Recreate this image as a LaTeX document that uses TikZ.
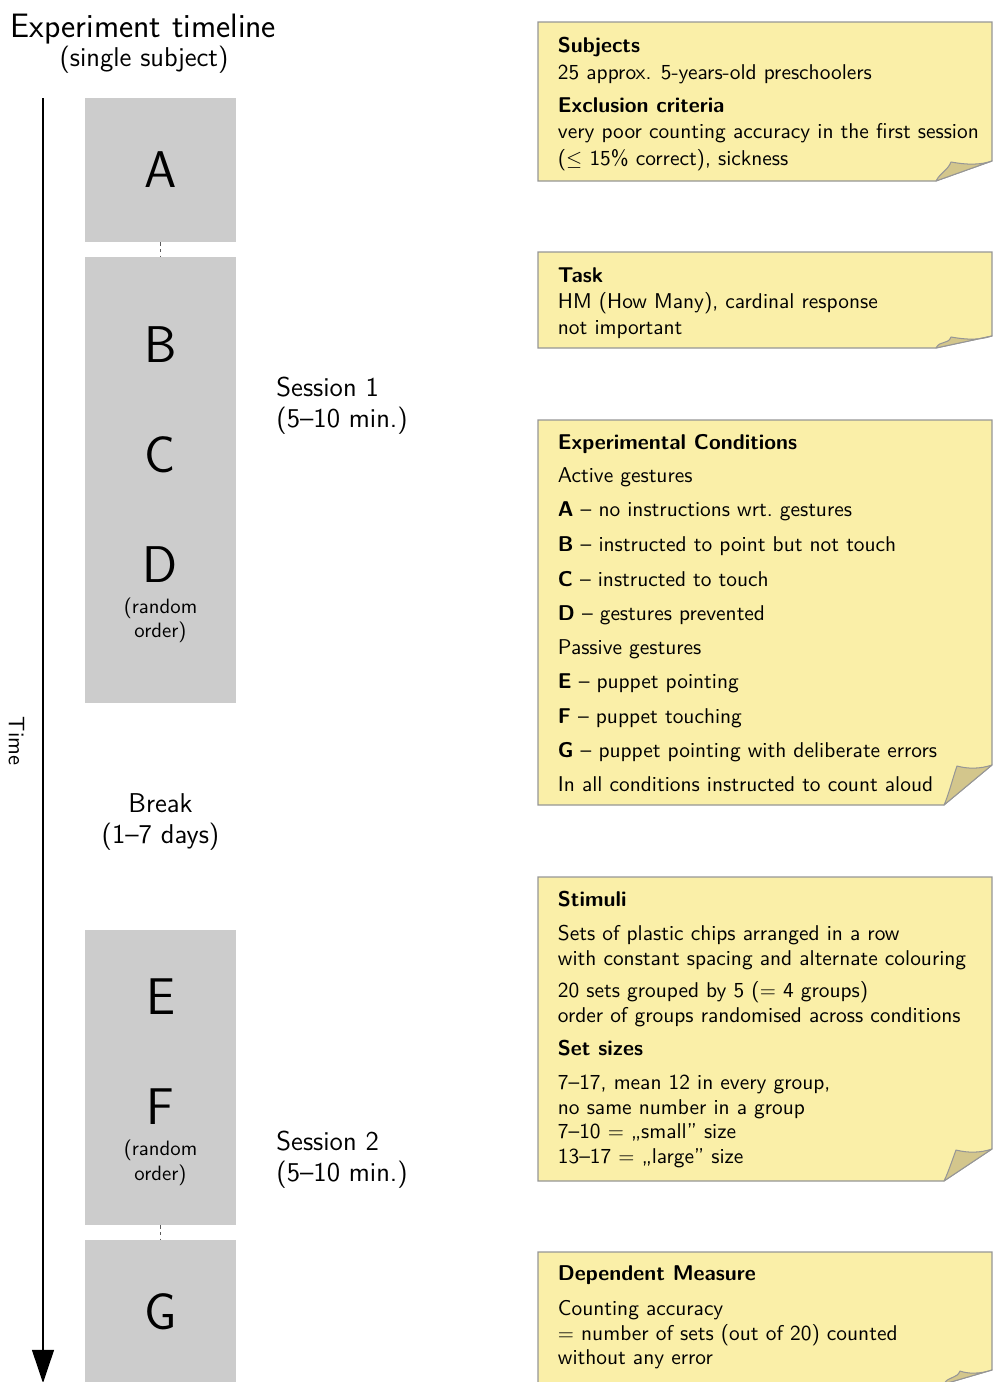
\documentclass[tikz,border=0pt]{standalone}
\usetikzlibrary{arrows.meta}

\newcommand\pxu{0.4817pt}

\definecolor{boxgray}{RGB}{204,204,204}
\definecolor{notefill}{RGB}{250,239,168}
\definecolor{foldfill}{RGB}{211,198,140}
\definecolor{noteline}{RGB}{150,150,150}
\definecolor{gapline}{RGB}{90,90,90}

% sticky note: #1 top, #2 bottom, #3 fold start on the right edge,
% #4 fold tip on the bottom edge, #5 inner corner of the turned-up flap
\newcommand\stickynote[5]{%
  \path[notebody] (538,#1) -- (992,#1) -- (992,#3) -- (#4,#2) -- (538,#2) -- cycle;
  \path[notefold] (992,#3) .. controls (980,#3+4) and (968,#3+4) .. (#5,#3+1)
     .. controls (#5-3,#3+9) and (#4+4,#2-8) .. (#4,#2) -- cycle;
}

\begin{document}
\begin{tikzpicture}[x=0.4817pt,y=-0.4817pt,
  graybox/.style={fill=boxgray, draw=none, inner sep=0pt, minimum width=151*\pxu},
  gap/.style={draw=gapline, line width=0.4pt, dash pattern=on 1.6pt off 1.6pt},
  bigletter/.style={anchor=base, inner sep=0pt, font=\sffamily\Huge},
  small/.style={anchor=base, inner sep=0pt, font=\sffamily\normalsize},
  label/.style={anchor=base west, inner sep=0pt, font=\sffamily\fontsize{13.1}{15}\selectfont},
  clabel/.style={label, anchor=base},
  notebody/.style={fill=notefill, draw=noteline, line width=0.5pt},
  notefold/.style={fill=foldfill, draw=noteline, line width=0.5pt, line join=round},
  notetxt/.style={anchor=base west, inner sep=0pt, font=\sffamily\fontsize{10.3}{12.5}\selectfont},
  notehead/.style={notetxt, font=\sffamily\bfseries\fontsize{10.3}{12.5}\selectfont},
  timearrow/.style={draw=black, line width=0.65pt, -{Triangle[length=16pt,width=10.6pt]}}
]
\useasboundingbox (0,0) rectangle (996,1382);

% ---------- heading ----------
\node[anchor=base, inner sep=0pt, font=\sffamily\fontsize{16.3}{19}\selectfont] (title) at (143.5,37) {Experiment timeline};
\node[clabel] (subtitle) at (144,66.5) {(single subject)};

% ---------- time axis ----------
\coordinate (tstart) at (43,98);
\coordinate (tend) at (43,1383);
\draw[timearrow] (tstart) -- (tend);
\node[inner sep=0pt, rotate=-90, font=\sffamily\fontsize{10.8}{13}\selectfont] (timelbl) at (16.5,741) {Time};

% ---------- blocks ----------
\node[graybox, minimum height=144*\pxu] (boxA) at (160.5,170) {};
\node[graybox, minimum height=446*\pxu] (boxBCD) at (160.5,480) {};
\node[graybox, minimum height=295*\pxu] (boxEF) at (160.5,1077.5) {};
\node[graybox, minimum height=160*\pxu] (boxG) at (160.5,1320) {};

\draw[gap] (boxA.south) -- (boxBCD.north);
\draw[gap] (boxEF.south) -- (boxG.north);

\node[bigletter] (lA) at (160.5,187) {A};
\node[bigletter] (lB) at (160.5,362) {B};
\node[bigletter] (lC) at (160.5,472) {C};
\node[bigletter] (lD) at (160.5,582) {D};
\node[small] (rnd1a) at (160.5,613) {(random};
\node[small] (rnd1b) at (160.5,637) {order)};
\node[bigletter] (lE) at (160.5,1014) {E};
\node[bigletter] (lF) at (160.5,1124) {F};
\node[small] (rnd2a) at (160.5,1155) {(random};
\node[small] (rnd2b) at (160.5,1180) {order)};
\node[bigletter] (lG) at (160.5,1329) {G};

% ---------- session labels ----------
\node[label] (s1a) at (276,396) {Session 1};
\node[label] (s1b) at (276,427) {(5--10 min.)};
\node[clabel] (brk1) at (160.5,812) {Break};
\node[clabel] (brk2) at (160.5,843) {(1--7 days)};
\node[label] (s2a) at (276,1150) {Session 2};
\node[label] (s2b) at (276,1181) {(5--10 min.)};

% ---------- notes ----------
\stickynote{22}{181}{161}{936}{951}
\node[notehead] (n1a) at (557.5,52) {Subjects};
\node[notetxt]  (n1b) at (557.5,79) {25 approx. 5-years-old preschoolers};
\node[notehead] (n1c) at (557.5,112.5) {Exclusion criteria};
\node[notetxt]  (n1d) at (557.5,138) {very poor counting accuracy in the first session};
\node[notetxt]  (n1e) at (557.5,165) {($\leq$ 15\% correct), sickness};

\stickynote{252}{348}{336}{936}{951}
\node[notehead] (n2a) at (557.5,282) {Task};
\node[notetxt]  (n2b) at (557.5,308) {HM (How Many), cardinal response};
\node[notetxt]  (n2c) at (557.5,334) {not important};

\stickynote{420}{805}{765}{944}{957}
\node[notehead] (n3a) at (557.5,449) {Experimental Conditions};
\node[notetxt]  (n3b) at (557.5,482.5) {Active gestures};
\node[notetxt]  (n3c) at (557.5,516) {\textbf{A} -- no instructions wrt.\ gestures};
\node[notetxt]  (n3d) at (557.5,551) {\textbf{B} -- instructed to point but not touch};
\node[notetxt]  (n3e) at (557.5,586) {\textbf{C} -- instructed to touch};
\node[notetxt]  (n3f) at (557.5,620.5) {\textbf{D} -- gestures prevented};
\node[notetxt]  (n3g) at (557.5,654.5) {Passive gestures};
\node[notetxt]  (n3h) at (557.5,688) {\textbf{E} -- puppet pointing};
\node[notetxt]  (n3i) at (557.5,723) {\textbf{F} -- puppet touching};
\node[notetxt]  (n3j) at (557.5,757) {\textbf{G} -- puppet pointing with deliberate errors};
\node[notetxt]  (n3k) at (557.5,791) {In all conditions instructed to count aloud};

\stickynote{877}{1181}{1149}{944}{956}
\node[notehead] (n4a) at (557.5,906) {Stimuli};
\node[notetxt]  (n4b) at (557.5,940.5) {Sets of plastic chips arranged in a row};
\node[notetxt]  (n4c) at (557.5,965) {with constant spacing and alternate colouring};
\node[notetxt]  (n4d) at (557.5,997) {20 sets grouped by 5 ($=$ 4 groups)};
\node[notetxt]  (n4e) at (557.5,1022) {order of groups randomised across conditions};
\node[notehead] (n4f) at (557.5,1055) {Set sizes};
\node[notetxt]  (n4g) at (557.5,1089) {7--17, mean 12 in every group,};
\node[notetxt]  (n4h) at (557.5,1114) {no same number in a group};
\node[notetxt]  (n4i) at (557.5,1138.5) {7--10 $=$ „small'' size};
\node[notetxt]  (n4j) at (557.5,1163) {13--17 $=$ „large'' size};

\stickynote{1252}{1384}{1370}{944}{960}
\node[notehead] (n5a) at (557.5,1280) {Dependent Measure};
\node[notetxt]  (n5b) at (557.5,1315) {Counting accuracy};
\node[notetxt]  (n5c) at (557.5,1340) {$=$ number of sets (out of 20) counted};
\node[notetxt]  (n5d) at (557.5,1364.5) {without any error};

\end{tikzpicture}
\end{document}
